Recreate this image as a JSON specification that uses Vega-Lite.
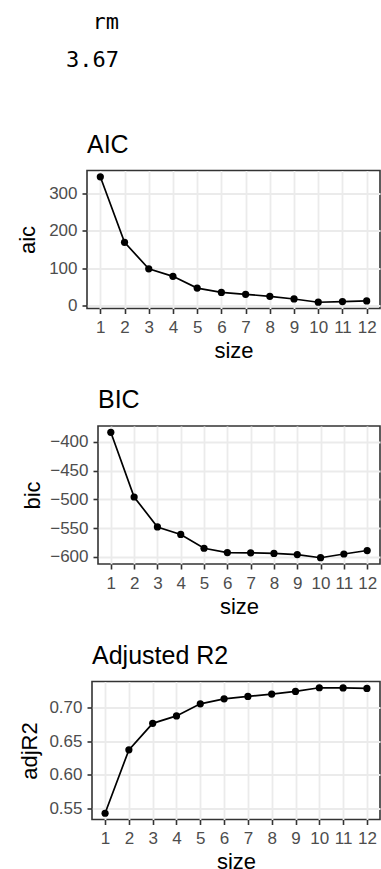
{
  "$schema": "https://vega.github.io/schema/vega-lite/v6.json",
  "background": "white",
  "padding": 0,
  "spacing": 24.5,
  "datasets": {
    "fit": [
      {"size": 1, "aic": 344, "bic": -383.5, "adjR2": 0.543},
      {"size": 2, "aic": 169, "bic": -496, "adjR2": 0.6375},
      {"size": 3, "aic": 98, "bic": -548, "adjR2": 0.677},
      {"size": 4, "aic": 78, "bic": -561, "adjR2": 0.688},
      {"size": 5, "aic": 46.5, "bic": -585, "adjR2": 0.706},
      {"size": 6, "aic": 35, "bic": -592.5, "adjR2": 0.7135},
      {"size": 7, "aic": 30, "bic": -593, "adjR2": 0.717},
      {"size": 8, "aic": 24.6, "bic": -594, "adjR2": 0.7205},
      {"size": 9, "aic": 17.5, "bic": -596, "adjR2": 0.7245},
      {"size": 10, "aic": 8.8, "bic": -601.5, "adjR2": 0.73},
      {"size": 11, "aic": 10.5, "bic": -595, "adjR2": 0.7298},
      {"size": 12, "aic": 12.3, "bic": -589, "adjR2": 0.729}
    ],
    "printout": [
      {"row": 1, "label": "rm"},
      {"row": 2, "label": "3.67"}
    ],
    "none": []
  },
  "config": {
    "view": {"stroke": "#333333", "strokeWidth": 1.6},
    "axis": {
      "domain": false,
      "grid": true,
      "gridColor": "#EBEBEB",
      "gridWidth": 1.8,
      "tickColor": "#333333",
      "tickWidth": 1.6,
      "tickSize": 5,
      "labelFont": "Liberation Sans",
      "labelFontSize": 17,
      "labelColor": "#4D4D4D",
      "labelPadding": 5,
      "labelFlush": false,
      "labelOverlap": false,
      "titleFont": "Liberation Sans",
      "titleFontSize": 22,
      "titleFontWeight": "normal",
      "titleColor": "black"
    },
    "axisX": {"labelPadding": 6, "titlePadding": 5},
    "axisY": {"titlePadding": 4},
    "title": {
      "anchor": "start",
      "frame": "group",
      "offset": 13,
      "font": "Liberation Sans",
      "fontSize": 25,
      "fontWeight": "normal",
      "color": "black"
    }
  },
  "vconcat": [
    {
      "data": {"name": "printout"},
      "width": 238,
      "height": 106.2,
      "view": {"stroke": null},
      "mark": {"type": "text", "align": "right", "baseline": "middle", "font": "DejaVu Sans Mono", "fontSize": 22, "color": "black"},
      "encoding": {
        "y": {"field": "row", "type": "ordinal", "axis": null, "scale": {"type": "point", "padding": 0.9085, "align": 0.327}},
        "text": {"field": "label"}
      }
    },
    {
      "spacing": 0,
      "hconcat": [
        {"data": {"name": "none"}, "width": 15, "height": 1, "view": {"stroke": null}, "mark": "text", "encoding": {}},
        {
          "data": {"name": "fit"},
          "width": 293,
          "height": 138,
          "title": {"text": "AIC"},
          "layer": [
            {
              "mark": {"type": "line", "color": "black", "strokeWidth": 1.7},
              "encoding": {
                "x": {"field": "size", "type": "quantitative", "scale": {"domain": [0.45, 12.55], "nice": false, "zero": false}, "axis": {"values": [1,2,3,4,5,6,7,8,9,10,11,12], "format": "d", "title": "size"}},
                "y": {"field": "aic", "type": "quantitative", "scale": {"domain": [-7.96, 360.76], "nice": false, "zero": false}, "axis": {"values": [0, 100, 200, 300], "format": "d", "title": "aic", "minExtent": 44, "maxExtent": 44}}
              }
            },
            {
              "mark": {"type": "point", "filled": true, "color": "black", "size": 52, "opacity": 1},
              "encoding": {
                "x": {"field": "size", "type": "quantitative", "axis": {"orient": "top", "values": [0.5,1.5,2.5,3.5,4.5,5.5,6.5,7.5,8.5,9.5,10.5,11.5,12.5], "labels": false, "ticks": false, "domain": false, "title": null, "gridWidth": 0.9}},
                "y": {"field": "aic", "type": "quantitative", "axis": {"orient": "right", "values": [50, 150, 250, 350], "labels": false, "ticks": false, "domain": false, "title": null, "gridWidth": 0.9}}
              }
            }
          ],
          "resolve": {"axis": {"x": "independent", "y": "independent"}}
        }
      ]
    },
    {
      "spacing": 0,
      "hconcat": [
        {"data": {"name": "none"}, "width": 20, "height": 1, "view": {"stroke": null}, "mark": "text", "encoding": {}},
        {
          "data": {"name": "fit"},
          "width": 282,
          "height": 138,
          "title": {"text": "BIC"},
          "layer": [
            {
              "mark": {"type": "line", "color": "black", "strokeWidth": 1.7},
              "encoding": {
                "x": {"field": "size", "type": "quantitative", "scale": {"domain": [0.45, 12.55], "nice": false, "zero": false}, "axis": {"values": [1,2,3,4,5,6,7,8,9,10,11,12], "format": "d", "title": "size"}},
                "y": {"field": "bic", "type": "quantitative", "scale": {"domain": [-612.4, -372.6], "nice": false, "zero": false}, "axis": {"values": [-600, -550, -500, -450, -400], "format": "d", "title": "bic", "minExtent": 50, "maxExtent": 50}}
              }
            },
            {
              "mark": {"type": "point", "filled": true, "color": "black", "size": 52, "opacity": 1},
              "encoding": {
                "x": {"field": "size", "type": "quantitative", "axis": {"orient": "top", "values": [0.5,1.5,2.5,3.5,4.5,5.5,6.5,7.5,8.5,9.5,10.5,11.5,12.5], "labels": false, "ticks": false, "domain": false, "title": null, "gridWidth": 0.9}},
                "y": {"field": "bic", "type": "quantitative", "axis": {"orient": "right", "values": [-575, -525, -475, -425, -375], "labels": false, "ticks": false, "domain": false, "title": null, "gridWidth": 0.9}}
              }
            }
          ],
          "resolve": {"axis": {"x": "independent", "y": "independent"}}
        }
      ]
    },
    {
      "spacing": 0,
      "hconcat": [
        {"data": {"name": "none"}, "width": 17, "height": 1, "view": {"stroke": null}, "mark": "text", "encoding": {}},
        {
          "data": {"name": "fit"},
          "width": 288,
          "height": 138,
          "title": {"text": "Adjusted R2"},
          "layer": [
            {
              "mark": {"type": "line", "color": "black", "strokeWidth": 1.7},
              "encoding": {
                "x": {"field": "size", "type": "quantitative", "scale": {"domain": [0.45, 12.55], "nice": false, "zero": false}, "axis": {"values": [1,2,3,4,5,6,7,8,9,10,11,12], "format": "d", "title": "size"}},
                "y": {"field": "adjR2", "type": "quantitative", "scale": {"domain": [0.5337, 0.7393], "nice": false, "zero": false}, "axis": {"values": [0.55, 0.6, 0.65, 0.7], "format": ".2f", "title": "adjR2", "minExtent": 47, "maxExtent": 47}}
              }
            },
            {
              "mark": {"type": "point", "filled": true, "color": "black", "size": 52, "opacity": 1},
              "encoding": {
                "x": {"field": "size", "type": "quantitative", "axis": {"orient": "top", "values": [0.5,1.5,2.5,3.5,4.5,5.5,6.5,7.5,8.5,9.5,10.5,11.5,12.5], "labels": false, "ticks": false, "domain": false, "title": null, "gridWidth": 0.9}},
                "y": {"field": "adjR2", "type": "quantitative", "axis": {"orient": "right", "values": [0.575, 0.625, 0.675, 0.725], "labels": false, "ticks": false, "domain": false, "title": null, "gridWidth": 0.9}}
              }
            }
          ],
          "resolve": {"axis": {"x": "independent", "y": "independent"}}
        }
      ]
    }
  ]
}
